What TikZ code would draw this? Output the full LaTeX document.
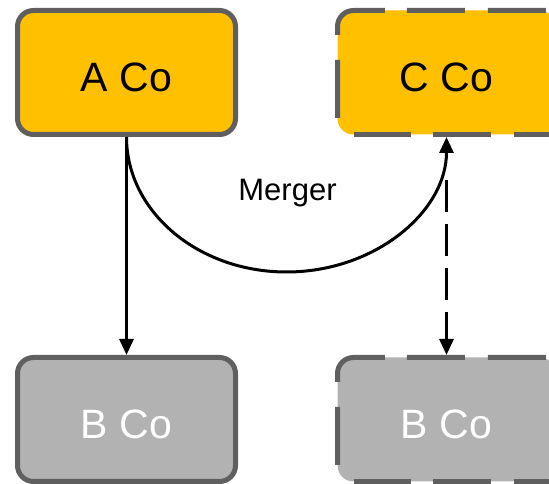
\documentclass[tikz,border=0pt]{standalone}
\usepackage{fontspec}
\setmainfont{Liberation Sans}
\usetikzlibrary{arrows.meta,calc}
\definecolor{cogold}{HTML}{FFC000}
\definecolor{cogray}{HTML}{B2B2B2}
\definecolor{coedge}{HTML}{5F5F5F}
\tikzset{
  cobox/.style={rounded corners=16pt, minimum width=218pt, minimum height=124pt,
    inner sep=0pt, outer sep=2.5pt, text height=37.4pt, text depth=0pt,
    font=\fontsize{41}{49}\selectfont},
  solidedge/.style={draw=coedge, line width=5pt},
  live/.style={cobox, fill=cogold, text=black},
  sold/.style={cobox, fill=cogray, text=white},
  % long-dash outline: left side, top-left corner and top edge
  edgeupper/.style={draw=coedge, line width=5pt, rounded corners=16pt,
    dash pattern=on 58pt off 25pt on 65pt off 22pt on 58pt off 23pt on 58pt off 22pt on 58pt off 200pt},
  % long-dash outline: bottom edge
  edgelower/.style={draw=coedge, line width=5pt,
    dash pattern=on 57pt off 22pt on 58pt off 23pt on 58pt off 200pt},
  link/.style={line width=3pt, -{Triangle[length=16pt,width=14pt]}},
}
\begin{document}
\begin{tikzpicture}[x=1pt,y=1pt]
\useasboundingbox (0,0) rectangle (549,484);
\clip (0,0) rectangle (549,484);

% companies
\node[live, solidedge] (A)  at (126.5,411.5) {A Co};
\node[sold, solidedge] (B1) at (126.5,64.5)  {B Co};
\node[live] (C)  at (446.5,411.5) {C Co};
\node[sold] (B2) at (446.5,64.5)  {B Co};

% dashed outlines of the post-merger boxes
\foreach \n in {C,B2}{
  \draw[edgeupper] ($(\n.center)+(-109,-45.5)$) -- ($(\n.center)+(-109,62)$) -- ($(\n.center)+(109,62)$);
  \draw[edgelower] ($(\n.center)+(-92.5,-62)$) -- ($(\n.center)+(109,-62)$);
}

% connectors
\draw[link] (A.south) -- (B1.north);
\coordinate (low) at ($(A.south)!0.5!(C.south)+(0,-135)$);
\draw[link] (A.south) .. controls +(0,-74.6) and +(-88.4,0) .. (low)
  .. controls +(88.4,0) and +(0,-74.6) .. (C.south);
\draw[link, dash pattern=on 32pt off 12pt, shorten <=43pt] (C.south) -- (B2.north);

\node[font=\fontsize{31}{37}\selectfont, anchor=base] (merge) at (287.5,283) {Merger};
\end{tikzpicture}
\end{document}
